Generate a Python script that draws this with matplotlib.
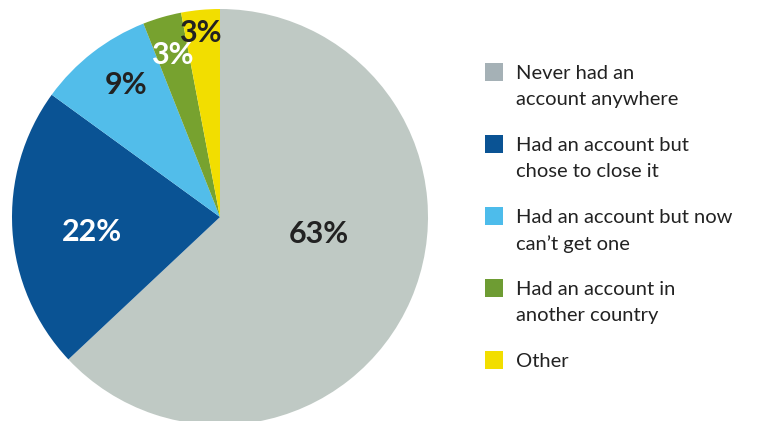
import numpy as np
import matplotlib.pyplot as plt
from matplotlib.patches import Rectangle

# data
labels = ["Never had an\naccount anywhere",
          "Had an account but\nchose to close it",
          "Had an account but now\ncan\u2019t get one",
          "Had an account in\nanother country",
          "Other"]
values = [63, 22, 9, 3, 3]
pie_colors = ["#BFC9C4", "#0A5394", "#52BDEA", "#77A22F", "#F2DE00"]
legend_colors = ["#A5B1B6", "#0A5394", "#4DBCEB", "#6E9C33", "#F2DE00"]
pct_colors = ["#222222", "white", "#222222", "white", "#222222"]

# label placement (angle in degrees, radius as fraction of pie radius)
pct_angle = [-9.8, 186.7, 125.5, 106.5, 96.2]
pct_rad = [0.48, 0.62, 0.78, 0.81, 0.89]

W, H = 764, 421
fig = plt.figure(figsize=(W / 100, H / 100), dpi=100)
ax = fig.add_axes([0, 0, 1, 1])
ax.set_xlim(0, W)
ax.set_ylim(H, 0)
ax.set_aspect("equal")
ax.axis("off")

cx, cy, r = 220, 217, 208
# y axis is inverted, so counterclock=True draws clockwise on screen
ax.pie(values, colors=pie_colors, startangle=-90, counterclock=True,
       center=(cx, cy), radius=r, frame=True,
       wedgeprops=dict(linewidth=0))
ax.set_xlim(0, W)
ax.set_ylim(H, 0)
ax.axis("off")

for v, a, rf, c in zip(values, pct_angle, pct_rad, pct_colors):
    x = cx + rf * r * np.cos(np.radians(a))
    y = cy - rf * r * np.sin(np.radians(a))
    ax.text(x, y, f"{v}%", ha="center", va="center", color=c,
            fontsize=22, fontweight="bold", family="Lato")

# legend
y0, step = 72, 72
for i, (lab, c) in enumerate(zip(labels, legend_colors)):
    y = y0 + i * step
    ax.add_patch(Rectangle((485, y - 9), 18, 18, color=c, linewidth=0))
    ax.text(516, y - 7, lab, ha="left", va="top", fontsize=14.5,
            color="#222222", family="Lato", linespacing=1.62)

fig.savefig("out.png", dpi=100)
